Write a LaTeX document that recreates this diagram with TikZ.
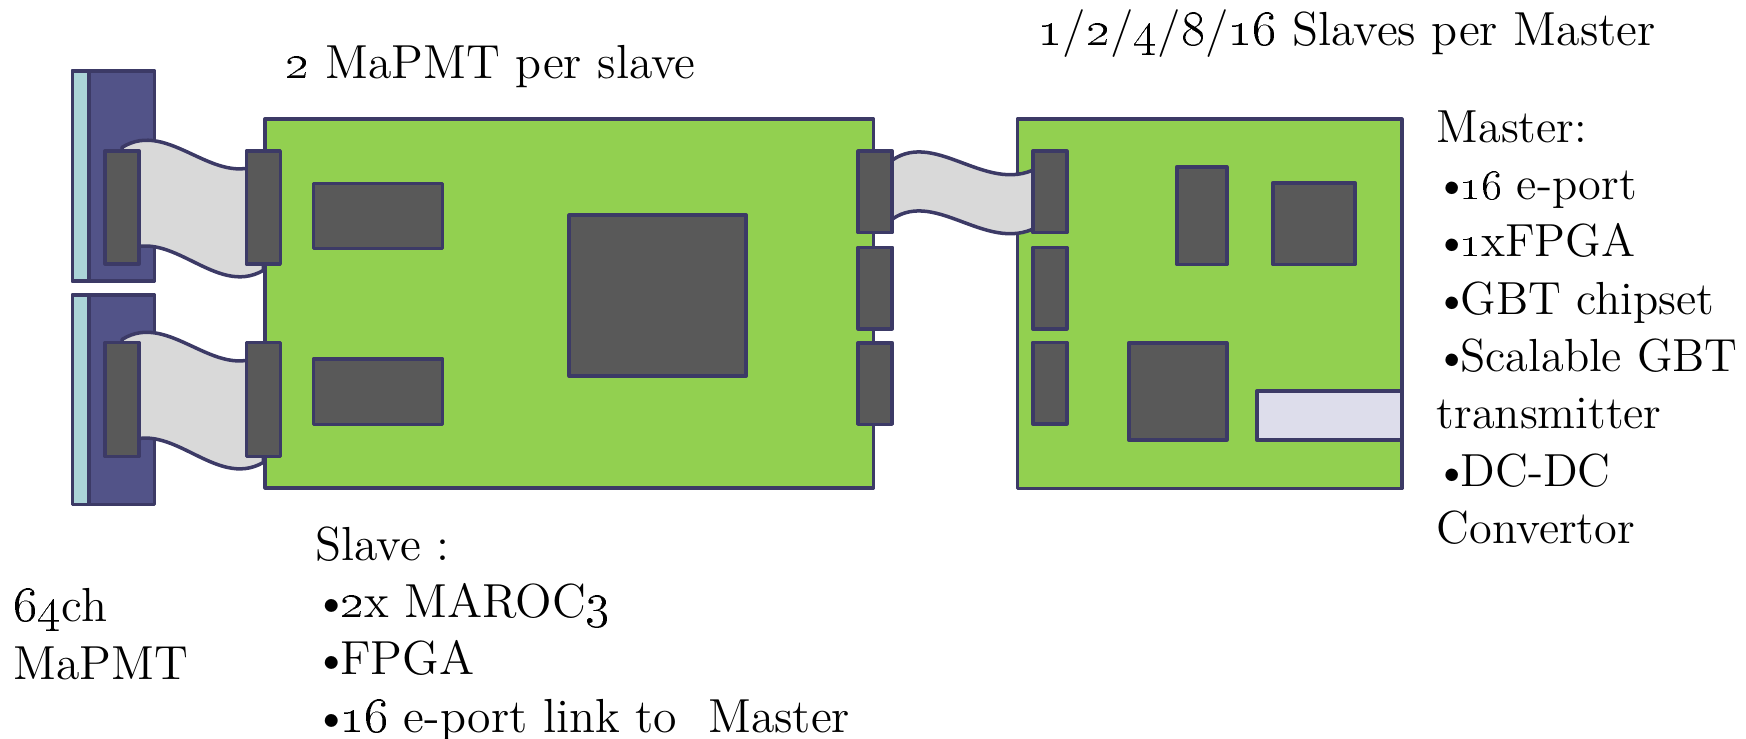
\documentclass[tikz,border=0pt]{standalone}
\usepackage{tikz}
\usetikzlibrary{positioning, calc}
\definecolor{pcbgreen}{HTML}{92D050}
\definecolor{edgeblue}{HTML}{3C3A66}
\definecolor{chipgrey}{HTML}{595959}
\definecolor{pmtblue}{HTML}{525388}
\definecolor{pmtglass}{HTML}{ABD4D8}
\definecolor{ribbongrey}{HTML}{D9D9D9}
\definecolor{gbtlilac}{HTML}{DDDDEB}
\pgfdeclarelayer{boards}
\pgfdeclarelayer{ribbons}
\pgfsetlayers{boards,ribbons,main}
\tikzset{
  part/.style={draw=edgeblue, line width=1pt, line join=round, inner sep=0pt},
  board/.style={part, fill=pcbgreen, anchor=north west},
  chip/.style={part, fill=chipgrey},
  conn/.style={part, fill=chipgrey, minimum width=0.34cm},
  ribbon/.style={draw=edgeblue, line width=1pt, line join=round, fill=ribbongrey},
}
\newcommand\bul{\kern-0.05em\textbullet\kern-0.2em}

\begin{document}
\begin{tikzpicture}[font=\fontsize{13.6}{16.3}\selectfont]
        \useasboundingbox (0,0) rectangle (17.46,-7.39);

        % Boards and photomultipliers at the back
        \begin{pgfonlayer}{boards}
        \node[board, fill=pmtblue, minimum width=0.82cm, minimum height=2.1cm] (pmtA) at (0.707,-0.69) {};
        \node[board, fill=pmtblue, minimum width=0.82cm, minimum height=2.094cm] (pmtB) at (0.707,-2.933) {};
        \node[board, fill=pmtglass, minimum width=0.166cm, minimum height=2.1cm] at (pmtA.north west) {};
        \node[board, fill=pmtglass, minimum width=0.166cm, minimum height=2.094cm] at (pmtB.north west) {};
        \node[board, minimum width=6.084cm, minimum height=3.687cm] (slave) at (2.633,-1.173) {};
        \node[board, minimum width=3.845cm, minimum height=3.694cm] (master) at (10.155,-1.173) {};
        \end{pgfonlayer}

        % Connectors
        \node[conn, minimum height=1.127cm, below right=0.803cm and 0.326cm of pmtA.north west] (pcA) {};
        \node[conn, minimum height=1.14cm, below right=0.474cm and 0.326cm of pmtB.north west] (pcB) {};
        \node[conn, minimum height=1.127cm, below=0.32cm of slave.north west] (scA) {};
        \node[conn, minimum height=1.14cm, below=2.234cm of slave.north west] (scB) {};
        \foreach \d [count=\i] in {0.32,1.282,2.237}
            \node[conn, minimum height=0.815cm, below=\d cm of slave.north east] (sp\i) {};
        \foreach \d [count=\i] in {0.32,1.284,2.234}
            \node[conn, minimum height=0.815cm, below right=\d cm and 0.155cm of master.north west] (mp\i) {};

        % Slave: MAROC3s and FPGA
        \node[chip, minimum width=1.293cm, minimum height=0.65cm, below right=0.644cm and 0.483cm of slave.north west] (marocA) {};
        \node[chip, minimum width=1.293cm, minimum height=0.654cm, below right=2.40cm and 0.483cm of slave.north west] (marocB) {};
        \node[chip, minimum width=1.77cm, minimum height=1.61cm, below right=0.96cm and 3.041cm of slave.north west] (fpga) {};

        % Master: GBT chipset, FPGA, transmitter
        \node[chip, minimum width=0.5cm, minimum height=0.977cm, below right=0.477cm and 1.595cm of master.north west] (gbtA) {};
        \node[chip, minimum width=0.823cm, minimum height=0.817cm, below right=0.637cm and 2.555cm of master.north west] (gbtB) {};
        \node[chip, minimum width=0.98cm, minimum height=0.973cm, below right=2.237cm and 1.115cm of master.north west] (mfpga) {};
        \node[part, fill=gbtlilac, minimum width=1.445cm, minimum height=0.49cm, below right=2.72cm and 2.395cm of master.north west] (gbtx) {};

        % Ribbon cables, behind the connectors
        \begin{pgfonlayer}{ribbons}
        \foreach \a/\b in {pcA/scA, pcB/scB}
            \draw[ribbon] ($(\a.center)+(0,0.6)$) to[out=32,in=210] ($(\b.center)+(0,0.45)$)
                -- ($(\b.center)+(0,-0.63)$) to[out=210,in=30] ($(\a.center)+(0,-0.45)$) -- cycle;
        \draw[ribbon] ($(sp1.center)+(0.13,0.286)$) to[out=40,in=208] ($(mp1.center)+(-0.13,0.236)$)
            -- ($(mp1.center)+(-0.13,-0.354)$) to[out=208,in=40] ($(sp1.center)+(0.13,-0.304)$) -- cycle;
        \end{pgfonlayer}

        % Labels
        \node[anchor=base west, inner sep=0pt] (pertitle) at (2.85,-0.783) {\oldstylenums{2} MaPMT per slave};
        \node[anchor=base west, inner sep=0pt] (mastertitle) at (10.38,-0.45)
            {\oldstylenums{1}/\oldstylenums{2}/\oldstylenums{4}/\oldstylenums{8}/\oldstylenums{16} Slaves per Master};
        \node[anchor=north west, align=left, inner sep=0pt, font=\fontsize{13.2}{16.3}\selectfont] (masterlist) at (14.36,-1.10)
            {Master:\\\bul\oldstylenums{16} e-port\\\bul\oldstylenums{1}xFPGA\\\bul GBT chipset\\\bul Scalable GBT\\transmitter\\\bul DC-DC\\Convertor};
        \node[anchor=north west, align=left, inner sep=0pt] (slavelist) at (3.15,-5.26)
            {Slave :\\\bul\oldstylenums{2}x MAROC\oldstylenums{3}\\\bul FPGA\\\bul\oldstylenums{16} e-port link to\ \ Master};
        \node[anchor=north west, align=left, inner sep=0pt] (pmtlabel) at (0.127,-5.88)
            {\oldstylenums{64}ch\\MaPMT};
\end{tikzpicture}
\end{document}
